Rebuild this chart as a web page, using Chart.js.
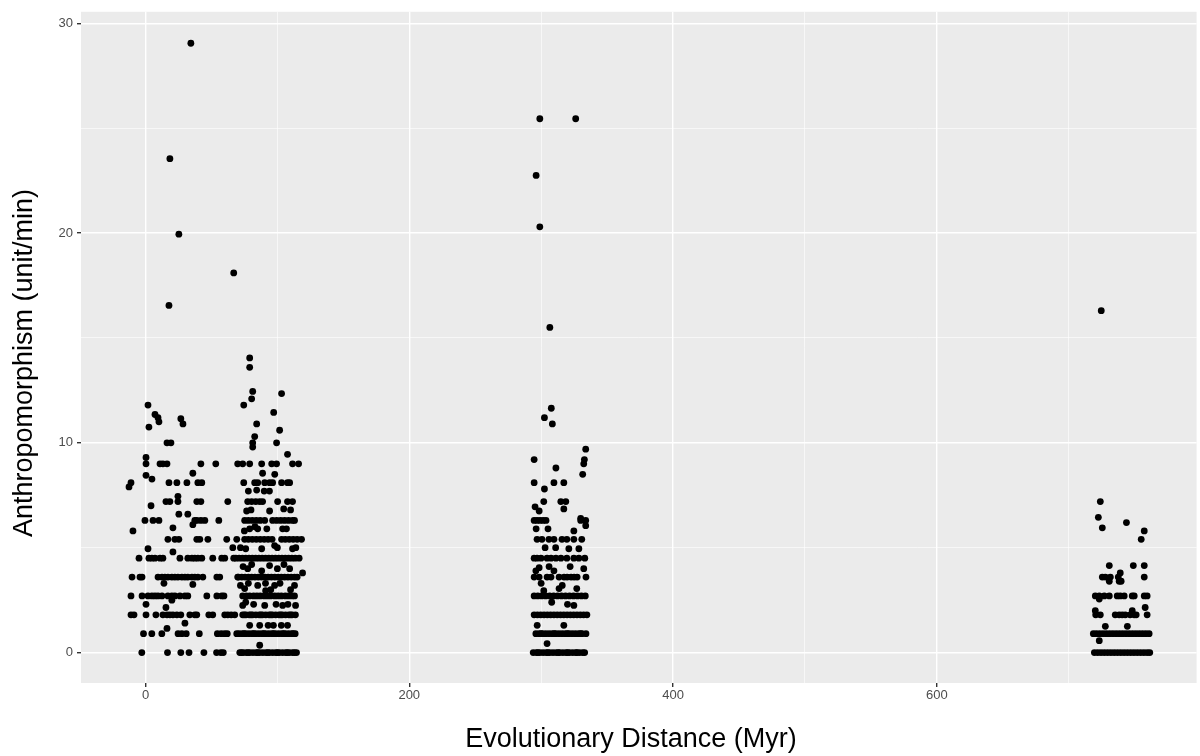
<!DOCTYPE html>
<html>
<head>
<meta charset="utf-8">
<title>Anthropomorphism vs Evolutionary Distance</title>
<script src="https://cdn.jsdelivr.net/npm/chart.js@4"></script>
<style>
  body { margin: 0; background: #fff; }
  #wrap { width: 1200px; height: 756px; position: relative; }
</style>
</head>
<body>
<div id="wrap"><canvas id="scatterChart"></canvas></div>
<script>
// y values sit on a few discrete levels; x positions listed per level
const rateLevels = [0, 0.9, 1.8, 2.7, 3.6, 4.5, 5.4, 6.3, 7.2, 8.1, 9.0, 10.0];

const row00 = [-2.8, 16.7, 26.8, 33.0, 44.3, 53.9, 57.1, 59.0,
  71.5, 72.8, 74.0, 76.5, 77.8, 79.0, 81.5, 84.0, 85.0, 86.5, 89.0, 91.5, 92.7, 94.0, 96.5, 99.0, 100.0, 101.5, 104.0, 106.5, 107.5, 109.0, 111.5, 113.0, 114.5,
  294.0, 296.5, 297.5, 299.0, 301.5, 304.0, 305.0, 306.5, 309.0, 311.5, 313.0, 314.0, 316.5, 319.0, 320.0, 321.5, 324.0, 326.5, 327.0, 329.0, 331.5, 333.0,
  719.5, 722.0, 724.5, 727.0, 729.5, 732.0, 734.5, 737.0, 739.5, 742.0, 744.5, 747.0, 749.5, 752.0, 754.5, 757.0, 759.5, 761.5];
const row09 = [-1.5, 4.8, 12.4, 24.7, 27.6, 30.9, 40.8, 54.5, 57.4, 60.0, 62.0,
  69.2, 71.0, 73.5, 74.8, 76.0, 78.5, 81.0, 82.0, 83.5, 86.0, 88.5, 89.7, 91.0, 93.5, 96.0, 97.0, 98.5, 101.0, 103.5, 104.7, 106.0, 108.5, 111.0, 112.0, 113.5,
  296.0, 298.5, 300.0, 301.0, 303.5, 306.0, 308.5, 310.0, 311.0, 313.5, 316.0, 318.5, 320.0, 321.0, 323.5, 326.0, 328.5, 330.0, 331.0, 334.0,
  718.7, 721.0, 723.5, 726.0, 728.5, 731.0, 733.5, 736.0, 738.5, 741.0, 743.5, 746.0, 748.5, 751.0, 753.5, 756.0, 758.5, 761.0];
const row18 = [-11.0, -8.7, 0.4, 7.9, 13.2, 16.3, 18.5, 20.8, 23.8, 26.8, 33.6, 37.4, 38.9, 48.0, 51.0, 60.1, 62.4, 65.0, 67.7,
  73.7, 75.0, 76.2, 78.7, 80.0, 81.2, 83.7, 86.2, 87.5, 88.7, 91.2, 93.7, 95.0, 96.2, 98.7, 101.2, 102.5, 103.7, 106.2, 108.7, 110.0, 111.2, 113.7,
  294.7, 297.2, 299.7, 302.2, 304.7, 307.2, 309.7, 312.2, 314.7, 317.2, 319.7, 322.2, 324.7, 327.2, 329.7, 332.2, 334.7,
  720.5, 724.0, 735.3, 738.3, 740.6, 742.9, 746.6, 749.7, 751.2, 759.5];
const row27 = [-11.0, -2.6, 1.9, 4.9, 7.2, 9.5, 12.5, 17.0, 20.0, 22.3, 26.1, 29.9, 32.1, 46.5, 54.1, 57.8, 59.5,
  73.7, 76.5, 79.0, 82.0, 84.5, 87.0, 90.0, 92.5, 95.0, 98.0, 100.5, 103.0, 106.0, 108.5, 111.0, 113.0,
  294.7, 297.5, 300.5, 303.5, 306.5, 309.5, 312.5, 315.5, 318.5, 321.5, 324.5, 327.5, 330.5, 333.5,
  720.2, 723.2, 727.0, 730.8, 736.8, 739.1, 742.1, 748.2, 749.7, 757.3, 759.5];
const row36 = [-10.2, -4.2, -2.6, 9.5, 12.5, 14.7, 17.0, 20.0, 22.3, 24.6, 27.6, 29.9, 32.1, 35.2, 37.4, 39.7, 43.5, 54.1, 56.3, 69.9,
  70.5, 73.0, 75.5, 78.0, 80.5, 83.0, 85.5, 88.0, 90.5, 93.0, 95.5, 98.0, 100.5, 103.0, 105.5, 108.0, 110.5, 113.0, 115.0,
  294.7, 298.5, 304.5, 307.5, 313.6, 317.4, 319.7, 322.7, 325.0, 327.3, 334.0,
  725.5, 727.8, 731.6, 737.6, 757.3];
const row45 = [-4.9, 2.6, 4.9, 7.2, 11.0, 13.2, 26.1, 32.1, 35.2, 37.4, 39.7, 42.7, 51.0, 57.8, 60.1, 66.9,
  68.5, 71.0, 73.5, 76.0, 78.5, 81.0, 83.5, 86.0, 88.5, 91.0, 93.5, 96.0, 98.5, 101.0, 103.5, 106.0, 108.5, 111.0, 113.5, 116.5,
  294.7, 296.9, 299.9, 304.5, 307.5, 311.2, 315.0, 319.5, 324.8, 328.6, 333.1];
const row54 = [17.0, 22.3, 25.3, 38.9, 41.2, 47.3, 61.6,
  69.2, 75.2, 78.0, 81.0, 84.0, 87.0, 90.0, 93.0, 96.0, 103.2, 106.0, 109.0, 112.0, 115.0, 118.3,
  296.9, 300.6, 305.9, 309.7, 315.8, 319.5, 324.8, 330.8,
  755.0];
const row63 = [-0.4, 5.7, 10.2, 37.4, 38.9, 42.0, 45.0, 55.6,
  75.2, 78.0, 81.0, 84.0, 87.0, 90.4, 96.4, 99.5, 102.5, 105.5, 108.5, 111.5, 113.0,
  294.7, 296.9, 299.2, 301.5, 303.7, 330.0, 333.8];
const row72 = [15.5, 18.5, 24.6, 38.9, 42.0, 62.4,
  77.5, 80.5, 83.6, 86.6, 88.8, 100.2, 107.7, 111.5,
  302.0, 314.9, 318.7,
  724.0];
const row81 = [-11.0, 17.8, 23.8, 31.4, 39.7, 42.7,
  74.5, 82.8, 85.1, 90.4, 94.1, 96.4, 103.2, 107.7, 109.3,
  294.7, 309.7, 317.2];
const row90 = [0.4, 11.0, 13.2, 16.3, 42.0, 53.3, 69.9,
  73.7, 79.0, 88.1, 95.7, 99.4, 111.5, 116.1,
  332.3];
const row100 = [16.3, 19.3, 81.3, 99.4];

// points that sit between the levels, [distance, rate]
const offLevel = [
  [34.4, 29.05], [18.5, 23.55], [25.3, 19.95], [17.8, 16.55], [66.9, 18.1],
  [1.9, 11.8], [7.2, 11.35], [9.5, 11.2], [10.2, 11.0], [2.6, 10.75], [26.8, 11.15], [28.4, 10.9],
  [0.4, 9.3], [0.4, 8.45], [4.9, 8.27], [35.9, 8.55], [24.6, 7.45], [4.2, 7.0], [-12.5, 7.9],
  [35.9, 6.1], [32.1, 6.6], [25.3, 6.6], [-9.5, 5.8], [20.8, 5.95], [1.9, 4.95], [20.8, 4.8], [66.2, 5.0],
  [14.0, 3.3], [35.9, 3.25], [0.4, 2.3], [20.0, 2.5], [15.5, 2.15], [16.3, 1.15], [29.9, 1.4],
  [79.0, 14.05], [79.0, 13.6], [81.3, 12.45], [80.5, 12.1], [74.5, 11.8], [103.2, 12.35], [97.2, 11.45],
  [101.7, 10.6], [84.3, 10.9], [82.8, 10.3], [81.3, 9.8], [107.7, 9.45], [88.8, 8.55], [84.3, 7.75],
  [73.7, 2.25], [75.2, 3.05], [77.5, 4.0], [76.0, 4.95], [79.0, 5.9], [76.7, 6.75],
  [85.1, 3.2], [88.1, 3.9], [91.1, 2.95], [94.1, 4.15], [97.9, 3.2], [104.0, 2.25], [109.3, 4.0],
  [113.0, 3.2], [111.5, 4.95], [106.9, 5.9], [97.9, 5.1], [88.1, 4.95], [85.1, 5.9], [94.1, 6.75],
  [104.8, 6.85], [86.6, 1.3], [79.0, 1.3], [107.7, 1.3], [86.6, 0.35], [113.8, 2.25], [90.4, 2.25], [119.1, 3.8],
  [72.0, 3.2], [74.0, 4.1], [76.0, 2.4], [78.0, 3.3], [80.5, 4.2], [82.0, 2.3], [91.0, 3.3], [95.0, 3.0],
  [100.0, 4.0], [102.0, 3.3], [105.0, 4.2], [110.0, 3.0], [108.0, 2.3], [99.0, 2.3], [93.0, 1.3], [97.0, 1.3],
  [103.0, 1.3], [72.0, 5.0], [75.0, 5.8], [80.0, 6.8], [83.0, 6.0], [92.0, 5.9], [100.0, 5.0], [104.0, 5.9],
  [110.0, 6.8], [114.0, 5.0], [78.0, 7.7], [90.0, 7.7], [98.0, 8.5], [94.0, 7.7],
  [299.0, 25.45], [326.2, 25.45], [296.2, 22.75], [299.0, 20.3], [306.6, 15.5],
  [307.7, 11.65], [302.5, 11.2], [308.5, 10.9], [333.8, 9.7], [332.8, 9.2], [331.5, 8.5], [311.2, 8.8],
  [294.7, 9.2], [302.5, 7.8], [295.4, 6.95], [330.0, 6.4], [333.8, 6.05],
  [298.5, 4.05], [309.7, 3.9], [321.0, 4.95], [302.0, 2.95], [313.6, 3.05], [324.8, 2.25], [332.3, 4.0],
  [305.2, 5.9], [317.2, 6.85], [298.5, 6.75], [328.6, 4.95], [304.5, 0.43], [317.2, 1.3], [327.0, 3.05],
  [296.2, 5.9], [324.8, 5.8], [300.0, 3.3], [306.0, 4.1], [311.0, 5.0], [316.0, 3.2], [320.0, 2.3],
  [297.0, 1.3], [308.0, 2.4], [322.0, 4.1], [303.0, 5.0], [296.0, 3.9],
  [724.7, 16.3], [722.5, 6.45], [743.8, 6.2], [725.5, 5.95], [757.3, 5.8], [730.8, 4.15], [749.0, 4.15],
  [757.3, 4.15], [739.1, 3.8], [730.8, 3.4], [738.3, 3.4], [739.8, 3.4], [723.2, 2.55], [758.0, 2.15],
  [720.2, 2.0], [748.2, 2.0], [727.8, 1.25], [744.5, 1.25], [723.2, 0.57]
];

const xTitle = 'Evolutionary Distance (Myr)';
const yTitle = 'Anthropomorphism (unit/min)';

const rows = [row00, row09, row18, row27, row36, row45, row54, row63, row72, row81, row90, row100];
const points = [];
rows.forEach((xs, i) => xs.forEach(x => points.push({x: x, y: rateLevels[i]})));
offLevel.forEach(p => points.push({x: p[0], y: p[1]}));

const panelBackground = {
  id: 'panelBackground',
  beforeDraw(chart) {
    const {ctx, chartArea: a} = chart;
    ctx.save();
    ctx.fillStyle = '#EBEBEB';
    ctx.fillRect(a.left, a.top, a.right - a.left, a.bottom - a.top);
    ctx.restore();
  }
};

const axisTitles = {
  id: 'axisTitles',
  afterDraw(chart) {
    const ctx = chart.ctx;
    ctx.save();
    ctx.fillStyle = '#000';
    ctx.font = '27px "Liberation Sans", Arial, sans-serif';
    ctx.textAlign = 'center';
    ctx.textBaseline = 'middle';
    ctx.fillText(xTitle, 631, 740);
    ctx.translate(25, 363);
    ctx.rotate(-Math.PI / 2);
    ctx.fillText(yTitle, 0, 0);
    ctx.restore();
  }
};

const tickFont = { family: '"Liberation Sans", Arial, sans-serif', size: 13 };

new Chart(document.getElementById('scatterChart'), {
  type: 'scatter',
  data: {
    datasets: [{
      data: points,
      backgroundColor: '#000',
      borderWidth: 0,
      pointRadius: 3.4,
      pointHoverRadius: 3.4
    }]
  },
  options: {
    responsive: true,
    maintainAspectRatio: false,
    animation: false,
    events: [],
    layout: { padding: { top: 8, right: 0, left: 0, bottom: 0 } },
    plugins: { legend: { display: false }, tooltip: { enabled: false } },
    scales: {
      x: {
        type: 'linear',
        min: -48.9,
        max: 797,
        afterFit: s => { s.height = 73; },
        border: { display: false },
        grid: {
          color: '#fff',
          lineWidth: c => (c.tick && c.tick.value % 200 === 0 ? 1.4 : 0.6),
          tickColor: c => (c.tick && c.tick.value % 200 === 0 ? '#333' : 'rgba(0,0,0,0)'),
          tickLength: 4
        },
        ticks: {
          stepSize: 100,
          includeBounds: false,
          autoSkip: false,
          maxRotation: 0,
          padding: 1,
          color: '#4D4D4D',
          font: tickFont,
          callback: v => (v % 200 === 0 ? v : '')
        }
      },
      y: {
        type: 'linear',
        min: -1.45,
        max: 30.55,
        afterFit: s => { s.width = 81; },
        border: { display: false },
        grid: {
          color: '#fff',
          lineWidth: c => (c.tick && c.tick.value % 10 === 0 ? 1.4 : 0.6),
          tickColor: c => (c.tick && c.tick.value % 10 === 0 ? '#333' : 'rgba(0,0,0,0)'),
          tickLength: 4
        },
        ticks: {
          stepSize: 5,
          includeBounds: false,
          autoSkip: false,
          padding: 4,
          color: '#4D4D4D',
          font: tickFont,
          callback: v => (v % 10 === 0 ? v : '')
        }
      }
    }
  },
  plugins: [panelBackground, axisTitles]
});
</script>
</body>
</html>
